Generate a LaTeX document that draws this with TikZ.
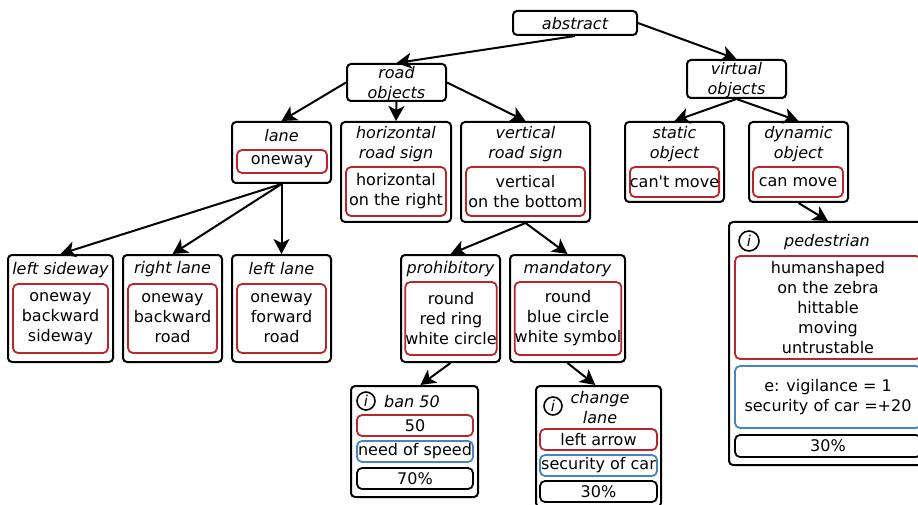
\documentclass[tikz,border=0pt]{standalone}
\usepackage{fontspec}
\setmainfont{DejaVu Sans}
\usetikzlibrary{arrows.meta}
\definecolor{boxred}{RGB}{185,38,42}
\definecolor{boxblue}{RGB}{72,132,192}
\begin{document}
\begin{tikzpicture}[x=1pt,y=-1pt,
  every node/.style={font=\fontsize{16}{20}\selectfont, inner sep=0pt},
  outer/.style={draw=black, line width=2pt, rounded corners=4pt, fill=white},
  redbox/.style={draw=boxred, line width=1.8pt, rounded corners=5pt, align=center},
  bluebox/.style={draw=boxblue, line width=1.8pt, rounded corners=5pt, align=center},
  blackbox/.style={draw=black, line width=1.8pt, rounded corners=5pt, align=center},
  ttl/.style={font=\fontsize{16}{20}\selectfont\itshape, align=center},
  info/.style={circle, draw=black, line width=1.6pt, minimum size=18pt, font=\fontsize{15}{15}\selectfont\itshape},
  arr/.style={line width=2pt, -{Stealth[length=15pt,width=16pt,inset=4pt]}}
]
\useasboundingbox (0,0) rectangle (918,505);
\clip (0,0) rectangle (918,505);

% top level
\node[outer, minimum width=124pt, minimum height=24pt] (abstract) at (575,23) {};
\node[ttl] (abstract-t) at (575,23.5) {abstract};

\node[outer, minimum width=99pt, minimum height=37pt] (roadobj) at (396.5,82.5) {};
\node[ttl] (roadobj-t) at (396.5,84) {road\\objects};

\node[outer, minimum width=99pt, minimum height=38pt] (virtual) at (736.5,79) {};
\node[ttl] (virtual-t) at (736.5,80.5) {virtual\\objects};

% second level
\node[outer, minimum width=99pt, minimum height=61pt] (lane) at (281.5,152.5) {};
\node[ttl] (lane-t) at (281.5,136) {lane};
\node[redbox, minimum width=90pt, minimum height=23pt] (lane-r) at (282,161.5) {oneway};

\node[outer, minimum width=110pt, minimum height=100pt] (hrs) at (396,172) {};
\node[ttl] (hrs-t) at (396,144) {horizontal\\road sign};
\node[redbox, minimum width=100pt, minimum height=49pt] (hrs-r) at (396,191.5) {horizontal\\on the right};

\node[outer, minimum width=129pt, minimum height=100pt] (vrs) at (525.5,172) {};
\node[ttl] (vrs-t) at (525.5,144) {vertical\\road sign};
\node[redbox, minimum width=119pt, minimum height=49pt] (vrs-r) at (525.5,191.5) {vertical\\on the bottom};

\node[outer, minimum width=99pt, minimum height=80pt] (static) at (674.5,162) {};
\node[ttl] (static-t) at (674.5,144) {static\\object};
\node[redbox, minimum width=89pt, minimum height=30pt] (static-r) at (674.5,182) {can\textquotesingle t move};

\node[outer, minimum width=99pt, minimum height=80pt] (dynamic) at (798.5,162) {};
\node[ttl] (dynamic-t) at (798.5,144) {dynamic\\object};
\node[redbox, minimum width=90pt, minimum height=30pt] (dynamic-r) at (798,182) {can move};

% third level
\node[outer, minimum width=105pt, minimum height=107pt] (lsw) at (60.5,308.5) {};
\node[ttl] (lsw-t) at (60.5,270) {left sideway};
\node[redbox, minimum width=95pt, minimum height=69pt] (lsw-r) at (60.5,318.5) {oneway\\backward\\sideway};

\node[outer, minimum width=99pt, minimum height=107pt] (rl) at (172.5,308.5) {};
\node[ttl] (rl-t) at (172.5,269) {right lane};
\node[redbox, minimum width=89pt, minimum height=69pt] (rl-r) at (172.5,318.5) {oneway\\backward\\road};

\node[outer, minimum width=99pt, minimum height=107pt] (ll) at (281.5,308.5) {};
\node[ttl] (ll-t) at (281.5,269) {left lane};
\node[redbox, minimum width=89pt, minimum height=69pt] (ll-r) at (281.5,318.5) {oneway\\forward\\road};

\node[outer, minimum width=99pt, minimum height=107pt] (proh) at (450.5,308.5) {};
\node[ttl] (proh-t) at (450.5,269) {prohibitory};
\node[redbox, minimum width=90pt, minimum height=73pt] (proh-r) at (451,318.5) {round\\red ring\\white circle};

\node[outer, minimum width=115pt, minimum height=107pt] (mand) at (567.5,308.5) {};
\node[ttl] (mand-t) at (567.5,269) {mandatory};
\node[redbox, minimum width=104pt, minimum height=73pt] (mand-r) at (568,318.5) {round\\blue circle\\white symbol};

% leaves
\node[outer, minimum width=127pt, minimum height=111pt] (ban) at (414.5,441.5) {};
\node[info] (ban-i) at (366,401) {i};
\node[ttl, anchor=west] (ban-t) at (384,401.5) {ban 50};
\node[redbox, minimum width=116pt, minimum height=21pt] (ban-r) at (415,425.5) {50};
\node[bluebox, minimum width=116pt, minimum height=21pt] (ban-b) at (415,451.5) {need of speed};
\node[blackbox, minimum width=116pt, minimum height=21pt] (ban-k) at (415,478.5) {70\%};

\node[outer, minimum width=125pt, minimum height=121pt] (cl) at (598.5,446.5) {};
\node[info] (cl-i) at (553,406) {i};
\node[ttl] (cl-t) at (600,407.5) {change\\lane};
\node[redbox, minimum width=117pt, minimum height=21pt] (cl-r) at (598.5,439.5) {left arrow};
\node[bluebox, minimum width=117pt, minimum height=21pt] (cl-b) at (598.5,465.5) {security of car};
\node[blackbox, minimum width=117pt, minimum height=21pt] (cl-k) at (598.5,491.5) {30\%};

\node[outer, minimum width=198pt, minimum height=243pt] (ped) at (828,343.5) {};
\node[info, minimum size=20pt] (ped-i) at (749,241) {i};
\node[ttl] (ped-t) at (827,242) {pedestrian};
\node[redbox, minimum width=186pt, minimum height=103pt] (ped-r) at (828,307.5) {humanshaped\\on the zebra\\hittable\\moving\\untrustable};
\node[bluebox, minimum width=186pt, minimum height=62pt] (ped-b) at (828,397) {e: vigilance = 1\\security of car =+20};
\node[blackbox, minimum width=186pt, minimum height=22pt] (ped-k) at (828,446) {30\%};

% connectors
\draw[arr] (abstract.south) -- (roadobj.north);
\draw[arr] (abstract.east) -- (virtual.north);
\draw[arr] (roadobj.west) -- (lane.north);
\draw[arr] (roadobj.south) -- (hrs.north);
\draw[arr] (roadobj.east) -- (vrs.north);
\draw[arr] (virtual.south) -- (static.north);
\draw[arr] (virtual.south) -- (dynamic.north);
\draw[arr] (dynamic.south) -- (ped.north);
\draw[arr] (lane.south) -- (lsw.north);
\draw[arr] (lane.south) -- (rl.north);
\draw[arr] (lane.south) -- (ll.north);
\draw[arr] (vrs.south) -- (proh.north);
\draw[arr] (vrs.south) -- (mand.north);
\draw[arr] (proh.south) -- (ban.84);
\draw[arr] (mand.south) -- (cl.93);
\end{tikzpicture}
\end{document}
